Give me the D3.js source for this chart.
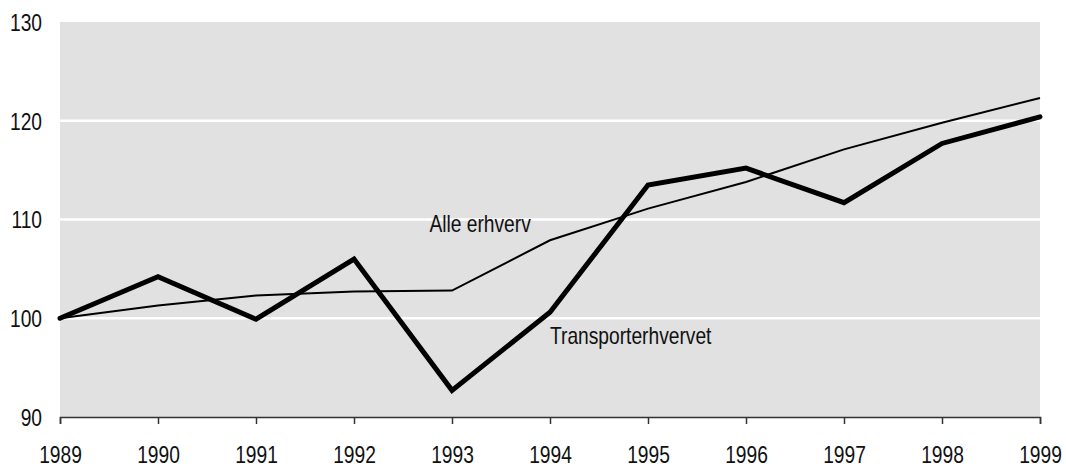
<!DOCTYPE html>
<html>
<head>
<meta charset="utf-8">
<script src="https://cdn.jsdelivr.net/npm/d3@7"></script>
<style>
  body { margin: 0; background: #fff; }
  text { font-family: "Liberation Sans", Arial, sans-serif; fill: #111; }
</style>
</head>
<body>
<div id="chart"></div>
<script>
var margin = {top: 22, right: 26, bottom: 51, left: 60};
var width = 1066 - margin.left - margin.right;
var height = 468 - margin.top - margin.bottom;
var narrow = 0.8; // squeeze Liberation Sans to look like Arial Narrow

// Data
var years = [1989, 1990, 1991, 1992, 1993, 1994, 1995, 1996, 1997, 1998, 1999];
var alleErhverv = [100, 101.3, 102.3, 102.7, 102.8, 107.9, 111.1, 113.8, 117.1, 119.8, 122.3];
var transport = [100, 104.2, 99.9, 106.0, 92.7, 100.6, 113.5, 115.2, 111.7, 117.7, 120.4];
var yTicks = [90, 100, 110, 120, 130];

var svg = d3.select("#chart")
    .append("svg")
    .attr("width", width + margin.left + margin.right)
    .attr("height", height + margin.top + margin.bottom)
    .append("g")
    .attr("transform", `translate(${margin.left}, ${margin.top})`);

var xScale = d3.scaleLinear()
    .domain([1989, 1999])
    .range([0, width]);

var yScale = d3.scaleLinear()
    .domain([90, 130])
    .range([height, 0]);

// background
svg.append("rect")
    .attr("x", 0)
    .attr("y", 0)
    .attr("width", width)
    .attr("height", height)
    .attr("fill", "#e1e1e1");

// gridlines
svg.selectAll(".grid")
    .data(yTicks.filter(function(d) { return d > 90 && d < 130; }))
    .enter().append("line")
    .attr("x1", 0)
    .attr("x2", width)
    .attr("y1", function(d) { return yScale(d); })
    .attr("y2", function(d) { return yScale(d); })
    .attr("stroke", "#fff")
    .attr("stroke-width", 2.5);

// axes
var xAxis = svg.append("g")
    .attr("transform", `translate(0, ${height})`)
    .call(d3.axisBottom(xScale).tickValues(years).tickFormat(d3.format("d")).tickSize(7));
xAxis.select(".domain").attr("stroke", "#333").attr("stroke-width", 1.5);
xAxis.selectAll(".tick line").attr("stroke", "#333").attr("stroke-width", 1.5);
xAxis.selectAll("text")
    .attr("y", 46)
    .attr("dy", 0)
    .attr("transform", `scale(${narrow}, 1)`)
    .style("font-size", "24px")
    .attr("fill", "#111");

var yAxis = svg.append("g")
    .call(d3.axisLeft(yScale).tickValues(yTicks).tickSize(0));
yAxis.select(".domain").remove();
yAxis.selectAll("text")
    .attr("x", -18 / narrow)
    .attr("dy", "0.35em")
    .attr("transform", `scale(${narrow}, 1)`)
    .style("font-size", "24px")
    .attr("fill", "#111");

// lines
var line = d3.line()
    .x(function(d, i) { return xScale(years[i]); })
    .y(function(d) { return yScale(d); });

svg.append("path")
    .datum(alleErhverv)
    .attr("fill", "none")
    .attr("stroke", "#000")
    .attr("stroke-width", 2)
    .attr("d", line);

svg.append("path")
    .datum(transport)
    .attr("fill", "none")
    .attr("stroke", "#000")
    .attr("stroke-width", 5)
    .attr("stroke-linejoin", "miter")
    .attr("stroke-linecap", "round")
    .attr("d", line);

// labels
function seriesLabel(x, y, txt) {
  svg.append("g")
      .attr("transform", `translate(${x}, ${y}) scale(${narrow}, 1)`)
    .append("text")
      .style("font-size", "24px")
      .text(txt);
}
seriesLabel(xScale(1992.77), yScale(108.75), "Alle erhverv");
seriesLabel(xScale(1994.0), yScale(97.4), "Transporterhvervet");
</script>
</body>
</html>
